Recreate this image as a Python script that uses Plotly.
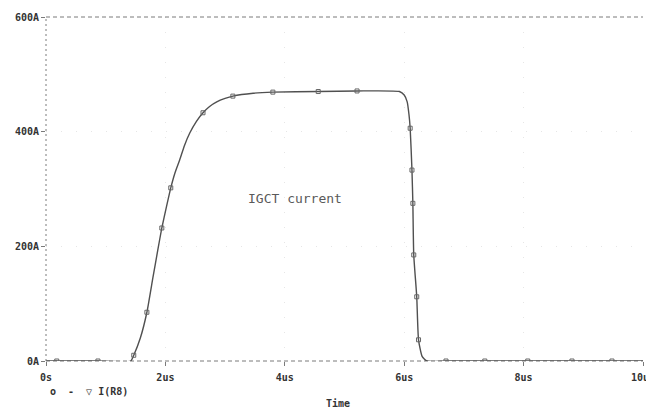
import plotly.graph_objects as go

# Transient simulation result: IGCT current I(R8) versus time
time_us = [0.0, 0.18, 0.87, 1.42, 1.47, 1.58, 1.69, 1.79, 1.87, 1.94, 2.02, 2.09,
           2.16, 2.24, 2.32, 2.41, 2.52, 2.63, 2.74, 2.86, 3.00, 3.13, 3.47,
           3.80, 4.56, 5.21, 5.92, 6.00, 6.05, 6.08, 6.10, 6.13, 6.145, 6.16,
           6.21, 6.24, 6.30, 6.38, 6.70, 7.35, 8.07, 8.81, 9.48, 10.0]
current_a = [0, 0, 0, 0, 10, 40, 85, 145, 192, 232, 270, 302,
             328, 351, 376, 398, 418, 433, 444, 452, 458, 462, 467,
             469, 470, 471, 470, 464, 452, 430, 406, 333, 275, 185,
             112, 37, 8, 0, 0, 0, 0, 0, 0, 0]
# indices of samples that carry trace symbols
marker_idx = [1, 2, 4, 6, 9, 11, 17, 21, 23, 24, 25, 30, 31, 32, 33, 34, 35,
              38, 39, 40, 41, 42]

x_ticks = [0, 2, 4, 6, 8, 10]
x_tick_text = ["0s", "2us", "4us", "6us", "8us", "10us"]
y_ticks = [0, 200, 400, 600]
y_tick_text = ["0A", "200A", "400A", "600A"]

trace_color = "#505050"
axis_color = "#7a7a7a"
text_color = "#333333"
tick_font = dict(family="DejaVu Sans Mono", size=10, color=text_color, weight="bold")

fig = go.Figure()
fig.add_trace(go.Scatter(
    x=time_us, y=current_a, mode="lines",
    line=dict(color=trace_color, width=1.4, shape="spline", smoothing=0.5),
    showlegend=False, hoverinfo="skip"))
fig.add_trace(go.Scatter(
    x=[time_us[i] for i in marker_idx], y=[current_a[i] for i in marker_idx],
    mode="markers",
    marker=dict(symbol="square-open", size=4, color="#666666",
                line=dict(width=1, color="#666666")),
    showlegend=False, hoverinfo="skip"))

fig.update_layout(
    width=646, height=408,
    margin=dict(l=46, r=3, t=17, b=47),
    paper_bgcolor="white", plot_bgcolor="white",
    font=dict(family="DejaVu Sans Mono", color=text_color),
    xaxis=dict(range=[0, 10], tickvals=x_ticks, ticktext=x_tick_text,
               ticks="outside", ticklen=4, tickcolor=axis_color,
               tickfont=tick_font, ticklabelstandoff=3,
               ticklabeloverflow="allow", automargin=False,
               showline=False, zeroline=False,
               showgrid=True, gridcolor="#e6e6e6", griddash="1px,14px"),
    yaxis=dict(range=[0, 600], tickvals=y_ticks, ticktext=y_tick_text,
               ticks="outside", ticklen=4, tickcolor=axis_color,
               tickfont=tick_font, automargin=False,
               showline=False, zeroline=False,
               showgrid=True, gridcolor="#e6e6e6", griddash="1px,14px"),
    shapes=[
        dict(type="line", xref="paper", yref="paper", x0=0, x1=1, y0=1, y1=1,
             line=dict(color=axis_color, width=1, dash="4px,3px")),
        dict(type="line", xref="paper", yref="paper", x0=0, x1=1, y0=0, y1=0,
             line=dict(color=axis_color, width=1, dash="4px,3px"), layer="below"),
        dict(type="line", xref="paper", yref="paper", x0=0, x1=0, y0=0, y1=1,
             line=dict(color=axis_color, width=1, dash="2px,3px")),
    ],
    annotations=[
        dict(text="IGCT current", x=4.17, y=283, xref="x", yref="y",
             showarrow=False, font=dict(family="DejaVu Sans Mono", size=13, color="#5a5a5a")),
        dict(text="Time", x=(338 - 46) / 597, y=0, xref="paper", yref="paper",
             yanchor="top", yshift=-35, showarrow=False, font=tick_font),
        dict(text="o  -  \u25bd I(R8)", x=(48 - 46) / 597, y=0, xref="paper", yref="paper",
             xanchor="left", yanchor="top", yshift=-23, showarrow=False, font=tick_font),
    ],
)

fig.write_html("out.html")
